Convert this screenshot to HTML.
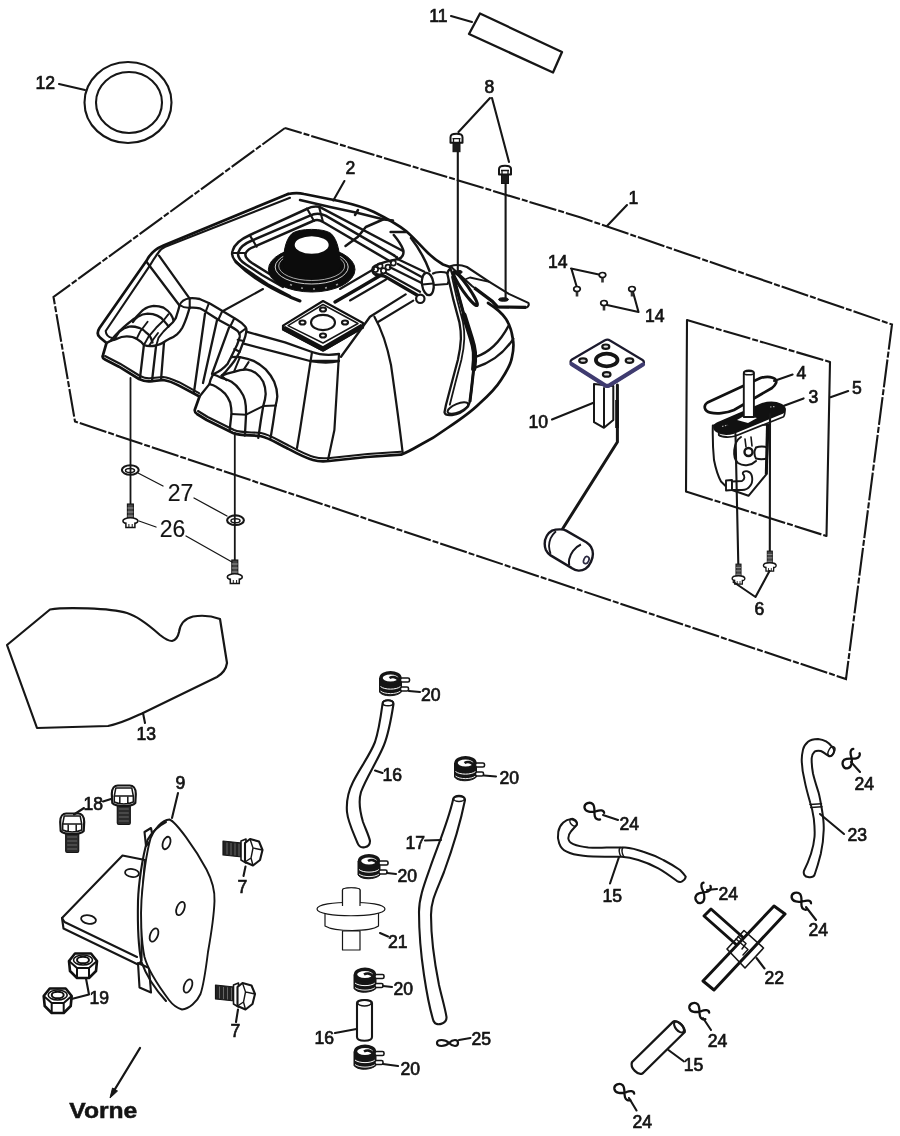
<!DOCTYPE html>
<html>
<head>
<meta charset="utf-8">
<title>Tank</title>
<style>
html,body{margin:0;padding:0;background:#fff;}
body{width:900px;height:1136px;overflow:hidden;font-family:"Liberation Sans",sans-serif;}
svg{display:block;}
.l{fill:none;stroke:#161616;stroke-width:2.1;stroke-linecap:round;stroke-linejoin:round;}
.t{fill:none;stroke:#161616;stroke-width:1.5;stroke-linecap:round;stroke-linejoin:round;}
.h{fill:none;stroke:#111;stroke-width:2.7;stroke-linecap:round;stroke-linejoin:round;}
.w{fill:#fff;stroke:#161616;stroke-width:2.1;stroke-linecap:round;stroke-linejoin:round;}
.k{fill:#151515;stroke:#151515;stroke-width:1;stroke-linejoin:round;}
.d{fill:none;stroke:#161616;stroke-width:2.1;stroke-dasharray:28 2 6 2;}
text{font-family:"Liberation Sans",sans-serif;font-size:17.6px;fill:#141414;stroke:#141414;stroke-width:0.7;text-anchor:middle;}
</style>
</head>
<body>
<svg width="900" height="1136" viewBox="0 0 900 1136">
<defs>
<!-- hose clamp (20) -->
<g id="clamp">
<path class="k" d="M-11,-6 L-11,8 C-8,13 6,13 11,8 L11,-6 Z"/>
<ellipse cx="0" cy="-6" rx="9.5" ry="5.2" fill="#fff" stroke="#151515" stroke-width="3.4"/>
<path d="M-1,-6 C2,-8 6,-7 8,-4" fill="none" stroke="#151515" stroke-width="2.6"/>
<path d="M-10,2.5 C-6,6 6,6 10,2.5" fill="none" stroke="#fff" stroke-width="1"/>
<path d="M-10,7 C-6,10.5 6,10.5 10,7" fill="none" stroke="#fff" stroke-width="0.9"/>
<rect x="10" y="-6" width="9" height="4" rx="1.5" fill="#fff" stroke="#151515" stroke-width="1.6"/>
<rect x="10" y="3" width="8" height="4" rx="1.5" fill="#fff" stroke="#151515" stroke-width="1.6"/>
</g>
<!-- spring clip (24) -->
<g id="clip">
<path d="M9,-5 C7,-7 4,-5 2,-1.500 C-1,3 -6,6.500 -9.500,3.500 C-12.500,0.500 -9.500,-5 -5,-4.500 C-1,-3.500 1,1.500 4,3.500 C6,5 9,4.500 10,2.500" fill="none" stroke="#111" stroke-width="2.300" stroke-linecap="round" stroke-linejoin="round"/>
</g>
<!-- small screw (8) -->
<g id="scr8">
<rect x="-3.500" y="4" width="7" height="9.500" fill="#1c1c1c" stroke="#151515" stroke-width="1"/>
<path d="M-6,4.500 L-6,-1 C-6,-5.500 6,-5.500 6,-1 L6,4.500 Z" fill="#fff" stroke="#151515" stroke-width="2" stroke-linejoin="round"/>
<path d="M-4,0.500 L4,0.500 M-3,0.500 L-3,4 M3,0.500 L3,4" stroke="#151515" stroke-width="1.300" fill="none"/>
</g>
<!-- flange bolt pointing down (18) -->
<g id="bolt18">
<rect x="-6.500" y="9" width="13" height="19.500" rx="1.500" fill="#2b2b2b" stroke="#151515" stroke-width="1.200"/>
<path d="M-5,13 H5 M-5,17 H5 M-5,21 H5 M-5,25 H5" stroke="#777" stroke-width="0.800"/>
<path d="M-12,-2 C-12,-8 -9,-10.500 -6,-10.500 L6,-10.500 C9,-10.500 12,-8 12,-2 L11.500,7 C8,11 -8,11 -11.500,7 Z" fill="#fff" stroke="#151515" stroke-width="2.200" stroke-linejoin="round"/>
<path d="M-9.500,0 L-8,-8 L8,-8 L9.500,0 Z" fill="none" stroke="#151515" stroke-width="1.500" stroke-linejoin="round"/>
<path d="M-9.500,0 L-9.500,6 C-5,8.500 5,8.500 9.500,6 L9.500,0 M-4,0.500 V7.500 M4,0.500 V7.500" fill="none" stroke="#151515" stroke-width="1.500"/>
</g>
<!-- nut (19) -->
<g id="nut">
<path d="M-14,-4 L-8,-11.500 L8,-11.500 L14,-4 L13,6 L6,13 L-6,13 L-13,6 Z" fill="#fff" stroke="#111" stroke-width="2.600" stroke-linejoin="round"/>
<path d="M-14,-4 L-6,3 L6,3 L14,-4 M-6,3 L-6,13 M6,3 L6,13" fill="none" stroke="#111" stroke-width="2"/>
<ellipse cx="0" cy="-5" rx="9.500" ry="5" fill="none" stroke="#111" stroke-width="1.600"/>
<ellipse cx="0" cy="-5" rx="6" ry="3.300" fill="#fff" stroke="#111" stroke-width="2"/>
</g>
<!-- bolt pointing left (7) -->
<g id="bolt7">
<path d="M-28,-11 L-9,-9 L-9,5 L-28,3 Z" fill="#222" stroke="#151515" stroke-width="1.200" stroke-linejoin="round"/>
<path d="M-24,-9.500 L-24,2.500 M-20,-9 L-20,3 M-16,-8.700 L-16,3.500 M-12,-8.300 L-12,4" stroke="#777" stroke-width="0.800"/>
<path d="M-10,-11 L-10,8 L-5,11 L-5,-13 Z" fill="#fff" stroke="#151515" stroke-width="1.600" stroke-linejoin="round"/>
<path d="M-6,-9 L-1,-13 L8,-10.500 L11.500,-2 L9,8 L2,13.500 L-6,10 Z" fill="#fff" stroke="#151515" stroke-width="2.100" stroke-linejoin="round"/>
<path d="M-1,-13 L2,-4 L11.500,-2 M2,-4 L0,6 L2,13.500 M0,6 L-6,10" fill="none" stroke="#151515" stroke-width="1.400"/>
</g>
<!-- small flange bolt up (26 / 6) -->
<g id="bolt26">
<rect x="-3" y="-17" width="6" height="16" fill="#444" stroke="#151515" stroke-width="1.100"/>
<path d="M-3,-13 H3 M-3,-9 H3 M-3,-5 H3" stroke="#bbb" stroke-width="0.700"/>
<ellipse cx="0" cy="0" rx="7.500" ry="3.200" fill="#fff" stroke="#151515" stroke-width="1.600"/>
<path d="M-4.500,1.500 L-4.500,6.500 L4.500,6.500 L4.500,1.500" fill="#fff" stroke="#151515" stroke-width="1.500"/>
<path d="M-1.500,3 V6.500 M1.800,3 V6.500" stroke="#151515" stroke-width="1"/>
</g>
<!-- tiny screw (14) -->
<g id="scr14">
<path d="M0,2 V7.500" stroke="#333" stroke-width="2.600"/>
<ellipse cx="0" cy="0" rx="3.300" ry="2.500" fill="#fff" stroke="#151515" stroke-width="1.700"/>
</g>
</defs>

<rect width="900" height="1136" fill="#fff"/>

<!-- ===== dashed assembly outline (1) ===== -->
<g id="outline1">
<path class="d" d="M285,128 L53.500,297 L75,421.500 L846,679 L892,324.500 L580,217.200 L285,128"/>
</g>

<!-- ===== sub-assembly box (5) ===== -->
<g id="box5">
<path class="d" d="M687,320 L830,362"/>
<path class="l" d="M687,320 L686,491.5 M830,362 L826.5,536"/>
<path class="d" d="M686,491.5 L826.5,536"/>
</g>

<!-- TANK -->
<g id="tank">
<!-- outer silhouette -->
<path class="h" d="M288,194 L163.500,245.500 C155,249 150,254 147,260 L99.500,328 C97,332 97.500,335.500 100,337.500 L106.500,343 L103,355 C102,357 103,358.500 105,359.500 L119,366.700 L139,379 C143,381 147,381.500 150,381.300 L163,380 C170,381 175,383.500 179,385.600 L199.500,396.500 L194.800,409.800 C194.500,411.500 195.500,413 197,414 L206.700,420 L233,433 C240,436 250,435 260,436 C270,438 278,444 286.700,448 C296,453 305,458 313,460 C318,461.500 324,461.500 329,461 L366.700,457 L401,454.700 C408,452 414,448.500 420,445 C430,440 438,435 446,429 C458,421 470,413 479,404 C488,396 496,388 501,380 C507,371 511,364 512,357 C513.500,350 514,345 513,340 C512,332 510,325 506,319 C502,313 496,308 488,303"/>
<path class="h" d="M288,194 C296,192.500 300,193 304,194 L339,201 C352,204 364,207 374,212 C386,218 397,224 406,231 C414,238 421,246 428,253 C433,258 438,261.500 443,264.500 L450,267"/>
<!-- top-left inner edge -->
<path class="l" d="M290,197.800 L165.200,246.800 C161.500,248.500 159.500,250.500 158.500,252.500 M158.500,252.500 C155.500,256.500 152.500,261 150.500,264.600 L105.700,331 C106,335 108,337 112,338"/>
<!-- ridge from corner -->
<path class="l" d="M146.700,262 L179.500,305.500 M159,255.600 L189.500,298.300" style="stroke-width:2.300"/>

<!-- recess concentric lines -->
<path class="l" d="M290,296 L267.800,284.400 L241,266 C234,261 231,256 232.500,251 C234,245 241,239 250,235 L306.700,209 C310,207 315,206 319,206.700 L403,251" style="stroke-width:2.500"/>
<path class="l" d="M283,287 L262,275 L246,264.500 C239,260 237,256 238.500,252 C240,247 246,243 252,240.500 L310,215.600 C314,213.500 320,213 325.600,215.600 L394.400,255.600" style="stroke-width:2.500"/>
<path class="l" d="M276,278 L252,263 C246,259 244,256 246,252.500 C248,249 251,248 254.400,246.700 L313,221 C316,219.500 320,220 323,222 L387.800,260" style="stroke-width:2.500"/>
<path class="l" d="M250,235.600 L256.700,246.700 M307,208.500 L314,221 M319,206.700 L323,222 M232,253 L246,253"/>
<!-- lower-left recess wall (dark) -->
<path class="h" d="M236,262 C250,276 270,288 290,297 L300,301" style="stroke-width:3"/>
<path class="l" d="M263,289 L223,311"/>
<!-- lower-right recess wall -->
<path class="h" d="M382,274.500 L360,287.500 L335,302" style="stroke-width:3.400"/>
<path class="l" d="M374,269 L340,289 M386,279.500 L350,300.500 M413.300,300.600 L378,322"/>
<!-- cap -->
<ellipse cx="311.700" cy="269.500" rx="43.300" ry="22.500" fill="#0c0c0c" stroke="#0c0c0c" stroke-width="1"/>
<ellipse cx="311.700" cy="267" rx="36.500" ry="17" fill="none" stroke="#e8e8e8" stroke-width="0.9"/>
<ellipse cx="311.700" cy="266" rx="33" ry="14.500" fill="none" stroke="#cfcfcf" stroke-width="0.8"/>
<path d="M283.700,266 C283,254 285,240 292,233.500 C299,228 324,228 331,233.500 C338,240 340,254 340.300,266 C340,281 284,281 283.700,266 Z" fill="#0c0c0c" stroke="#0c0c0c" stroke-width="1"/>
<ellipse cx="311.700" cy="245" rx="17" ry="8.700" fill="#fff"/>
<path d="M290,284.500 L292,285.200 M301,288 L303,288.300 M313,289 L315,289 M325,288 L327,287.600 M336,285 L338,284.200" stroke="#999" stroke-width="1.6" fill="none"/>
<!-- flange plate -->
<path d="M283,325.600 L323,301 L363,323 L363,327.500 L323,350.500 L283,329.500 Z" fill="#fff" stroke="#111" stroke-width="2.2" stroke-linejoin="round"/>
<path d="M283.500,328 L323,349 L362.500,326" fill="none" stroke="#111" stroke-width="5" stroke-linejoin="round"/>
<path class="t" d="M288,325.600 L323,304.500 L358,323.500 L323,343 Z"/>
<ellipse class="l" cx="323" cy="322.500" rx="12" ry="7.600"/>
<ellipse class="l" cx="323" cy="309.500" rx="3" ry="2" style="stroke-width:2.2"/>
<ellipse class="l" cx="302.500" cy="322.500" rx="3" ry="2" style="stroke-width:2.2"/>
<ellipse class="l" cx="345" cy="322.500" rx="3" ry="2" style="stroke-width:2.2"/>
<ellipse class="l" cx="323" cy="335.500" rx="3" ry="2" style="stroke-width:2.2"/>

<!-- top-right edge details -->
<path class="l" d="M300,200 L330,207 L358,213 L384,219.500 L393,220.500" style="stroke-width:2.500"/>
<path class="l" d="M358,210 L355,215 M383,219.500 L365.800,227 L358,236.700 L345.500,246" style="stroke-width:2.500"/>
<path class="l" d="M393.800,235 C398,240 401.500,245 403,249.500 C404.500,254 402,258 398.500,259 C397,259.300 396.500,258.500 396.700,257" style="stroke-width:2.500"/>
<path class="l" d="M394.400,255.600 C396,257 397,258 398,258.600 M387.800,260 L391,262"/>
<path class="l" d="M390.600,232 L406,232 M411,238 C418,247 425,259 429.500,271" style="stroke-width:2.500"/>
<!-- channel tube on right -->
<path class="l" d="M375,274.500 C371.500,272.500 371.500,267.500 375,265.800 C380,263.500 390,260.500 398,259.200 L424.400,271.700 M397.800,263.900 L422.200,277.200 M390,267.200 L421.100,282.800 M385.600,272.800 L420,291.700" style="stroke-width:2.300"/>
<path d="M375,274.500 L384.400,276.100 L417.800,295.500" fill="none" stroke="#111" stroke-width="3.400" stroke-linejoin="round"/>
<circle class="l" cx="375.500" cy="269.500" r="2.600" style="stroke-width:1.700"/>
<circle class="l" cx="380" cy="266" r="2.600" style="stroke-width:1.700"/>
<circle class="l" cx="383.500" cy="270.800" r="2.600" style="stroke-width:1.700"/>
<circle class="l" cx="388" cy="267.300" r="2.600" style="stroke-width:1.700"/>
<circle class="l" cx="393.300" cy="263" r="2.600" style="stroke-width:1.700"/>
<ellipse class="l" cx="427.800" cy="284" rx="5.800" ry="11.300" transform="rotate(-8 427.800 284)" style="stroke-width:2.300"/>
<path class="l" d="M422.500,284.500 L433,283.500"/>
<circle class="w" cx="420.300" cy="298.800" r="4.200" style="stroke-width:2.200"/>
<path class="l" d="M433,273.500 C436,271.700 444,271.500 447,273 C449.500,275.500 449.500,281 447.500,284 L434,285" style="stroke-width:2.200"/>
<!-- saddle ridge (double curve) -->
<path class="l" d="M189.700,298.300 C193,298 196,298.300 199.700,299 C203,300.500 207,302 210.300,303.700 L223.700,311.700 L237,319.700 C240,321.500 243,323.500 245,326.300 C246.500,328 246.700,330 246.300,331.700 C245.800,335 245,338 243.700,341 L239.700,351.700 C238,355 236.500,358 234.300,361 C232.500,363.500 231,365.500 229,367.700 C227,370.500 224.500,373.500 221.700,375.600" style="stroke-width:2.300"/>
<path class="l" d="M189.700,307.700 C193,307.500 196.500,307.500 199.700,308.300 C202.500,309.500 205,311 207.700,313 L218.300,319.700 L230.300,326.300 C233.500,328 236.500,329.500 238.300,331.700 C239.800,333.500 240,335 239.700,337 C239,340 238,342.500 237,345 L231.700,355.700 C230.500,358.500 229,361 227.700,363.700 C224,368 218.500,372 213.100,374.300" style="stroke-width:2.300"/>
<path class="l" d="M189.700,298.300 L189.700,307.700 M209,303 L205.700,311.700 M222.300,311 L218.300,319.700 M234.300,318.300 L230.300,326.300 M245,329 L239,333.700 M243.700,341 L237.700,339.700 M239.700,351.700 L234.300,349"/>
<!-- junction + band going down around left foot -->
<path class="l" d="M179.500,305.500 C181,301.500 185,299 189.700,298.300 M179.700,305 C183,307.500 186,308 189.700,307.700" style="stroke-width:2.100"/>
<path class="l" d="M179.700,305 C178.500,310 177,314.500 175.700,318.300 C174,321.500 171,324.500 168.300,326.500 M189.700,307.700 C188.500,311.500 187.500,315 186.300,318.300 C185,321.500 184,324.500 182.300,327.700 C181,330 179,332.500 177,334.300 C175,336 173,337.300 170.300,338.300 C168,339.500 166,340.500 163.500,342.500" style="stroke-width:2.300"/>
<!-- line from recess to ridge, edge lines to right -->
<path class="l" d="M246.300,331.700 L285,342.300 L312,352 M243.700,343.700 L285,354.300 L310,361 L339,361 M341,356.700 L370,316.700 L405.600,294.400 M312,352 C320,355 332,355 339,354" style="stroke-width:2.300"/>
<path class="l" d="M310,361 C320,363 332,363 339,361"/>
<!-- saddle surface lines -->
<path class="l" d="M205,313.700 L194,392 M217,320.300 L203,383 M229,327.700 L212,374" style="stroke-width:2.300"/>
<!-- left foot arcs -->
<path class="l" d="M106.500,343 C109.500,340.800 113,339.600 117,338.800 C120,337 123.500,336.300 126.800,336.300 C130.500,336.300 134,337 136.600,338.800 C139.500,340.500 142,342.500 143.900,345 L140,377.800" style="stroke-width:2.300"/>
<path class="l" d="M111,340.500 C115,335 120,330.500 124.300,326.600 C128,323.500 131.500,320.500 135.300,318 C138.500,314.500 141,311.500 143.900,309.400 C147,307 150.500,306 153.700,305.800 C157.500,305.800 160.500,306.300 163.500,307.600 C166.500,309.500 169,311.500 170.800,314.300 C172,316 173,318.500 173.500,320.500" style="stroke-width:2.300"/>
<path class="l" d="M133,322 C134.500,319.500 136,318 137.800,316.800 C141,314.800 144,313.800 147.600,313.700 C151,313.700 154.500,314.300 157.300,315.600 C160.500,317 163,319 164.700,321.700 C166.500,323.500 167.500,325 168.300,326.600" style="stroke-width:2.300"/>
<path class="l" d="M114.500,339.500 C116,336.500 117,334.500 119.400,331.500 C122.500,329 125.500,327.300 129.200,326.600 C132.500,326.300 136,326.800 139,327.800 C142,329 144.500,330.500 146.300,332.700 C148,334 149,335 150,336.300 C151.500,338.500 152,340.500 152.500,342.500" style="stroke-width:2.300"/>
<path class="l" d="M143.900,345 C146,345.800 148,346.100 150,346.100 C152,346.100 154,345.900 156.100,345.500 C159,344.800 161.500,343.800 163.500,342.500 M156.100,345.500 L152,381 M164,342.500 L161,380" style="stroke-width:2.300"/>
<path class="l" d="M136.600,338.800 L140.200,331.500 L147.600,321.700 M143.900,345 L148.800,336.300 L156.100,327.800 L163.500,320.500 L168.300,314.300 M148.800,346.100 L153.700,338.800 L158,333 M156.100,346.100 L158.600,337.600 L163.500,331.500 L169.600,325.300" style="stroke-width:1.900"/>
<!-- rim double line at bottom -->
<path class="l" d="M105,356 L120,363.700 L140,376 C144,378 147,378.500 150,378.300 L163,377 C170,378 175,380.500 180,382.600 L199,393.200"/>
<path class="l" d="M198,411 L207.700,417 L234,430 C241,433 251,432 261,433 C271,435 279,441 287.700,445 C297,450 306,455 314,457 C319,458.500 325,458.500 330,458 L367.700,454 L401,451.700"/>
<!-- right foot arcs -->
<path class="l" d="M199.500,396.500 L209.400,384.100 C212,384.500 214.500,385.500 216.800,387.200 C220,389 223,391.500 225.300,393.900 C227.500,396.500 229,399.500 230.200,402.500 C231,406 231.500,410 231.500,413.500 L229.600,430.600" style="stroke-width:2.300"/>
<path class="l" d="M209.400,384.100 C210,380.500 211.500,377 213.100,374.300 C216,375 219,376.500 221.700,378 C225,379 228.500,380 231.500,381.700 C235,384 238,387 240,390.200 C242,393 244,396.500 244.900,400 C245.800,404 246.100,409 246.100,413.500 L244.900,435.500" style="stroke-width:2.300"/>
<path class="l" d="M221.700,375.600 C225.500,374 230,372.800 233.900,371.900 C238,370.500 242,369.600 246.100,369.400 C249.500,369.800 253,371 255.900,373.100 C259,375.500 261.500,378.500 263.200,381.700 C264.800,385.500 265.700,389.500 265.700,393.900 C265.500,398 264.500,402 263.200,406.100 L260.800,420.800 L258.300,437.900" style="stroke-width:2.300"/>
<path class="l" d="M231.500,357.200 C234,356.800 237,356.800 240,357.200 C244.500,358 249.500,359.200 253.500,360.900 C258,363 262,366 265.700,369.400 C269,373 272,377 274.200,381.700 C276,386 277.300,391 277.300,396.300 C277,400 276.300,403 275.500,406.100 L273,423.200 L270.600,437.900" style="stroke-width:2.300"/>
<path class="l" d="M231.500,414.100 L246.100,414.700 L263.200,406.100 L276.100,405.500 M221.700,375.600 L226.500,380.300 M233.900,371.900 L240,357.200 M243.700,369.600 L248.600,362.100" style="stroke-width:2"/>
<!-- front faces -->
<path class="l" d="M312,352 L300,430 L297,448 M339,354 L334.400,430 L328,460 M374.400,316.700 C382,330 388,350 391,365 C396,400 400,430 402.700,453" style="stroke-width:2.2"/>

<!-- rim band on right -->
<path class="l" d="M475.900,356.800 C488,353 500,342 508.800,325.400 M475.900,367.300 C490,363 504,353 513.300,338.800" style="stroke-width:2.300"/>
<!-- strap -->
<path class="w" d="M450.400,268.500 C448.500,270 447.500,272 447.500,274.500 L453.400,299.900 L459.400,322.400 C460.500,328 461,333 460.900,338.800 C460.500,346 459.500,353 457.900,359.800 L451.900,382.200 L446,404.700 L444.500,412.200 C445,414.500 448,415.500 452,415 C458,414.500 464,411 468,406.500 L469.900,401.700 L471.400,389.700 L473.700,368.800 C474.500,363 474.700,357.500 474.400,352.300 C473.800,347.500 472.800,343 471.400,338.800 L463.900,314.900 L454.900,281.900 Z" style="stroke-width:2.300"/>
<path d="M454.900,281.900 L463.900,314.900" fill="none" stroke="#111" stroke-width="3.200"/>
<path d="M463.900,314.900 L471.400,338.800 C472.800,343 473.800,347.500 474.400,352.300 C474.700,357.500 474.500,363 473.700,368.800" fill="none" stroke="#111" stroke-width="5.200" stroke-linecap="round"/>
<path d="M473.700,368.800 L471.400,389.700 L469.900,401.700" fill="none" stroke="#111" stroke-width="3"/>
<path class="l" d="M452,277 L457.200,299.900 L463,322.400 C464,328 464.500,333 464.300,338.800 C464,346 463,353 461.400,359.800 L455.500,382.200 L449.800,404.700" style="stroke-width:1.800"/>
<ellipse class="l" cx="457.900" cy="408" rx="11" ry="4.200" transform="rotate(-22 457.900 408)" style="stroke-width:2"/>
<!-- bracket -->
<path class="w" d="M450.400,266.200 C455,264.500 462,265 466.900,267 L489.400,281.900 L508.800,293.900 L528.300,302.900 C529.300,304.500 528.500,306.500 526.800,307.400 L498,307.200 L492.400,301.400 L472,286 Z" style="stroke-width:2.100"/>
<path d="M474.400,287.900 L492.400,301.400 L497.500,306.800 L526,307.400" fill="none" stroke="#111" stroke-width="3.200" stroke-linejoin="round"/>
<path class="l" d="M466,279 L470,277.500 L489.400,281.900" style="stroke-width:1.800"/>
<ellipse class="k" cx="503.500" cy="299.500" rx="5" ry="1.800"/>
<ellipse cx="465.400" cy="288.700" rx="3.200" ry="20.500" transform="rotate(-35 465.400 288.700)" fill="#fff" stroke="#111" stroke-width="3"/>
<ellipse class="k" cx="459" cy="272" rx="3.200" ry="1.600"/>
<!--TANKMORE--></g>

<!-- PARTS -->
<g id="parts">
<!-- 12 o-ring -->
<ellipse class="l" cx="128" cy="102.5" rx="43.5" ry="40.5"/>
<ellipse class="l" cx="129" cy="102.5" rx="33" ry="30.5"/>
<path class="l" d="M59,84 L85,90"/>
<!-- 11 pad -->
<path class="l" d="M480,13.5 L562,52 L553,72.5 L469,34 Z" style="stroke-width:2.3"/>
<path class="l" d="M451,16 L472,22"/>
<!-- 8 screws -->
<path class="l" d="M490,98 L458.500,132 M492,98 L509,162"/>
<path class="l" d="M457.800,152 L457.800,272 M505.600,184 L505.600,299"/>
<use href="#scr8" x="456.500" y="138.200"/>
<use href="#scr8" x="505" y="170"/>
<!-- 14 screws -->
<path class="l" d="M571,268.5 L600,274.7 M571.5,269 L576.5,286 M638.5,312 L633,292 M638.5,312 L607,305"/>
<use href="#scr14" x="602.5" y="275"/>
<use href="#scr14" x="577" y="289"/>
<use href="#scr14" x="632" y="289"/>
<use href="#scr14" x="604" y="303"/>
<!-- 1 leader -->
<path class="l" d="M627,205 L607,226"/>
<!-- 2 leader -->
<path class="l" d="M344.400,181 L333.300,200.500"/>

<!-- 27 washers, 26 bolts -->
<path class="l" d="M130.500,378 L130.500,506 M234.800,433 L234.800,561" style="stroke-width:1.800"/>
<ellipse class="l" cx="130.300" cy="470" rx="8.400" ry="4.800"/><ellipse class="t" cx="130" cy="470.500" rx="4.500" ry="2"/>
<ellipse class="l" cx="235.500" cy="520.200" rx="8.400" ry="4.800"/><ellipse class="t" cx="235.500" cy="520.700" rx="4.500" ry="2"/>
<use href="#bolt26" x="130.400" y="521"/>
<use href="#bolt26" x="234.800" y="577"/>
<path class="t" d="M138,473 L163,486 M194,498 L227,516 M139,521 L156,527 M186,536 L232,562" style="stroke-width:1.300"/>

<!-- 10 fuel sender -->
<g id="sender">
<path class="w" d="M594,384 L594,422.200 L604,427.800 L613.300,420 L613.300,386 Z M604,388 L604,427.800" style="stroke-width:2"/>
<path class="l" d="M617.400,385 L617.400,442 L562.500,529" style="stroke-width:3"/>
<path d="M617,400 L617,428" stroke="#111" stroke-width="3.600" fill="none"/>
<path d="M572,359.500 L604.500,340.500 C606.500,339.500 608.500,339.500 610,340.500 L642.500,360 C644.500,361.500 644.500,363.500 642.500,365 L610,385.500 C608,386.800 606,386.800 604.500,385.500 L572,364.500 C570,363 570,361 572,359.500 Z" fill="#fff" stroke="#1c1a2e" stroke-width="2.200" stroke-linejoin="round"/>
<path d="M571.500,364 L604.500,385 C606.500,386.300 608,386.300 610,385 L643,364.500" fill="none" stroke="#3f3b70" stroke-width="4.200" stroke-linejoin="round" stroke-linecap="round"/>
<ellipse cx="606.700" cy="360" rx="10.800" ry="6.300" fill="#fff" stroke="#151515" stroke-width="3.800"/>
<ellipse cx="605.800" cy="346.700" rx="3.500" ry="2.200" fill="#ddd" stroke="#151515" stroke-width="2.200"/>
<ellipse cx="583" cy="360.600" rx="3.800" ry="2.300" fill="#ddd" stroke="#151515" stroke-width="2.200"/>
<ellipse cx="629.500" cy="360.600" rx="3.800" ry="2.300" fill="#ddd" stroke="#151515" stroke-width="2.200"/>
<ellipse cx="606.700" cy="374.400" rx="3.800" ry="2.300" fill="#ddd" stroke="#151515" stroke-width="2.200"/>
<path d="M560.700,529.400 C557.500,529.300 554.500,529.700 552.100,530.600 C549.500,532 547.800,533.800 546.700,536 C545.300,538.500 544.700,541 544.700,543.800 C544.700,546 545,548 545.900,550 C547,552.300 548.500,554 550.600,555.400 L571.500,567.900 C574,569.500 576,570.400 578.500,570.600 C581,570.700 583.500,570 585.500,568.700 C588,567 589.800,564.500 591,561.700 C592.200,559 592.900,556.500 592.900,553.900 C592.900,551.500 592.200,549 591,546.900 C589.800,545 588.300,543.500 586.300,542.200 L566.100,530.600 C564.500,529.800 562.500,529.400 560.700,529.400 Z" fill="#fff" stroke="#17161f" stroke-width="2.400" stroke-linejoin="round"/>
<path d="M556,531.300 C553.500,533.500 551.800,535.800 550.600,538.300 C549.500,541 549,543.500 549,546.100 C549.200,549 549.800,551.500 550.600,553.900" fill="none" stroke="#17161f" stroke-width="1.800"/>
<path d="M580.900,544.500 C577.500,546 575,548.300 573.100,550.800 C571,553.500 569.800,556.300 569.200,559.300 C568.800,561.500 568.800,563.500 569.200,565.500" fill="none" stroke="#17161f" stroke-width="2"/>
<ellipse cx="586.300" cy="560.100" rx="2.500" ry="3.700" transform="rotate(25 586.300 560.100)" fill="none" stroke="#2a2840" stroke-width="1.700"/>
</g>
<path class="l" d="M552,419.500 L593.500,402.800"/>

<!-- 3/4 petcock in box -->
<g id="petcock">
<path d="M707.500,402.500 L761,377.800 C770,375.500 778,378 776,383 C775,385.500 774,386.500 772,388 L734,410 C726,413.500 716,414 710.500,412.600 C704,411 703,405.500 707.500,402.500 Z" fill="none" stroke="#111" stroke-width="2.700" stroke-linejoin="round"/>
<path class="w" d="M712.800,425.600 C712.500,440 713,450 714,460 C716,470 718,476 721,481.500 L728.300,488.700 L748.500,495.800 L766.300,474.400 L768.700,424.500 Z" style="stroke-width:2"/>
<path d="M767.500,424.500 L766.300,474.400" stroke="#111" stroke-width="3" fill="none"/>
<path class="w" d="M718.800,431.600 L718.800,435 C722,437.500 730,437.500 735.400,436 L783,417 C785,416 785,413 784.800,409 L718.800,431.600 Z" style="stroke-width:1.800"/>
<path d="M717.600,423 L761.600,404 C768,402 776,402 781,404.500 C786,407 785.500,411 783,412.600 L734,432.800 C728,434.500 721,434 717,431.500 C713,429 713,425 717.600,423 Z" fill="#111" stroke="#111" stroke-width="1.800"/>
<path d="M737,420 L745,415.500 L757,418 L748,423 Z" fill="#fff"/>
<path d="M722,426.500 L728,425 M770,407 L775,406.500" stroke="#aaa" stroke-width="1.200" fill="none" stroke-dasharray="1.500 1.500"/>
<path class="w" d="M743.800,373 C743.800,369.500 753.900,369.500 753.900,373 L753.900,417 L743.800,417 Z" style="stroke-width:1.900"/>
<ellipse class="t" cx="748.800" cy="373" rx="5" ry="1.800"/>
<path class="l" d="M741,437 C733,442 732,458 738,463 C744,467 752,465 756,461" style="stroke-width:2"/>
<path class="l" d="M745,439 L746,447 M751,437 L752,446" style="stroke-width:1.600"/>
<circle class="l" cx="748.500" cy="452" r="4" style="stroke-width:2.400"/>
<path class="l" d="M756,447.500 C760,446 765,446.500 767,447.500 M756,458.500 C760,459.500 765,459 767,458.500 M756,447.500 C754,451 754,455 756,458.500" style="stroke-width:2"/>
<path class="w" d="M726,480.500 L732,480 L732,490 L726,490.500 Z" style="stroke-width:1.900"/>
<path class="w" d="M732,481.500 L742,481 C745,479.500 745,476 743,474 C742,472 745,470.500 748,471.500 C753,473 753.500,482 750,486 C748,489 745,490 742,490 L732,490 Z" style="stroke-width:1.900"/>
</g>
<path class="l" d="M735.500,434 L738.300,564 M770,414 L769.800,552"/>
<use href="#bolt26" transform="translate(738.500,578.500) scale(0.850)"/>
<use href="#bolt26" transform="translate(769.800,565.500) scale(0.850)"/>
<path class="l" d="M733.500,582 L755.500,597 L769.500,571"/>
<path class="l" d="M792.600,374.600 L774,381 M803.600,398.400 L784,405.700 M848.200,391.100 L830.500,397.200"/>

<!-- 13 pad outline -->
<path class="l" d="M7,645 L50,609.5 C65,607 110,608 127,613 C140,617 152,628 160,635 C165,639 169,641 172,641 C176,640 178,637 179,632 C180,625 183,619 193,616.5 C202,615 212,616 220,619 L227,663 C226,670 222,674 217,677 L143,713 C130,719 120,724 108,726 L37,728 Z" style="stroke-width:2.200"/>
<path class="l" d="M143,713 L145,723"/>

<!-- 18 bolts -->
<use href="#bolt18" x="123.800" y="796"/>
<use href="#bolt18" x="72.200" y="824"/>
<path class="l" d="M103,801.500 L111,799 M84,808 L74,814.500"/>
<!-- 9 bracket -->
<g id="bracket9">
<path class="w" d="M122.5,855.5 L145,860 L142,900 L141.5,960 L139,965 L63.5,928.5 L62,918 Z"/>
<path class="l" d="M62,918 L64.5,922 L137,957"/>
<path class="w" d="M138,963 L139.5,987.5 L151,992.5 L149,968 Z"/>
<path class="w" d="M144.5,832 L151,828 L153,838 L146,846 Z"/>
<path class="w" d="M169.5,819.5 C176,822 195,848 206.5,869.5 C212,880 215,890 214.500,901 C214,915 211,935 208,952 C206,968 204,984 200.500,994 C197,1002 189,1009 182,1009.500 C177,1008 172,1004 169,1000 C160,988 148,970 144.500,957 C141,940 140.500,915 141.500,900 C143,880 146,855 150.500,838.500 C154,829 162,820 169.500,819.500 Z" style="stroke-width:1.9"/>
<path class="l" d="M166,822 C158,826 151,834 147.500,840 C142,858 138.500,885 138,901 C137.500,925 138.500,948 141.500,962 C146,975 156,990 166,1001"/>
<ellipse class="l" cx="166.500" cy="843" rx="3.600" ry="6.500" transform="rotate(20 166.500 843)" style="stroke-width:1.8"/>
<ellipse class="l" cx="180.500" cy="908.500" rx="3.800" ry="7" transform="rotate(22 180.500 908.500)" style="stroke-width:1.8"/>
<ellipse class="l" cx="154" cy="935" rx="3.800" ry="7" transform="rotate(22 154 935)" style="stroke-width:1.8"/>
<ellipse class="l" cx="188" cy="986" rx="3.800" ry="7" transform="rotate(22 188 986)" style="stroke-width:1.8"/>
<ellipse class="l" cx="132" cy="873" rx="7" ry="4" transform="rotate(8 132 873)" style="stroke-width:1.8"/>
<ellipse class="l" cx="88.500" cy="919.500" rx="7.500" ry="4.200" transform="rotate(10 88.500 919.500)" style="stroke-width:1.8"/>
</g>
<path class="l" d="M178,793 L172,818"/>
<!-- 7 bolts -->
<use href="#bolt7" x="251" y="852"/>
<use href="#bolt7" x="243.500" y="996"/>
<path class="l" d="M245.500,866.500 L243.500,876 M238,1009.500 L236,1022"/>
<!-- 19 nuts -->
<use href="#nut" x="83" y="965"/>
<use href="#nut" x="57.700" y="1000"/>
<path class="l" d="M86,978.500 L89,994.500 L71.500,999"/>
<!-- Vorne arrow -->
<path class="l" d="M140,1048 L112,1094" style="stroke-width:2.300"/>
<path class="k" d="M110,1098 L112.500,1088 L117.500,1091 Z"/>

<!-- hoses 16,17 & clamps 20 -->
<path class="w" d="M382.500,704 C382,699 394,699 393.500,704 C391,720 388,735 384,745 C378,760 366,778 361,792 C358,802 360,812 363,822 C366,830 369,836 370,841 C370,848 360,850 357.500,843 C353,832 348,822 347,812 C346,800 348,792 353,782 C360,768 370,755 375,742 C379,730 381,715 382.500,704 Z"/>
<ellipse class="t" cx="388" cy="703" rx="5.200" ry="2.800"/>
<path class="w" d="M453,800 C452.500,795 465.500,795 465,800 C460,825 452,850 444,872 C437,890 431,900 431,915 C431,935 434,960 439,985 C442,998 445,1008 446.500,1017 C447,1024 436,1027 433.500,1021 C430,1010 427,995 424,975 C421,955 419,935 419,912 C419,898 424,885 430,868 C438,845 448,822 453,800 Z"/>
<ellipse class="t" cx="459" cy="798.500" rx="5.500" ry="3"/>
<path class="w" d="M357,1003 C357,999 372,999 372,1003 L372,1037 C372,1042 357,1042 357,1037 Z"/>
<ellipse class="t" cx="364.500" cy="1003" rx="6.800" ry="3"/>
<use href="#clamp" x="390.500" y="684"/>
<use href="#clamp" x="465.500" y="769"/>
<use href="#clamp" x="369" y="867"/>
<use href="#clamp" x="365" y="980.500"/>
<use href="#clamp" x="365" y="1057.500"/>
<path class="l" d="M409,691 L420,692 M484,775.500 L496,776.500 M387,873 L396,874 M383,986 L392,987 M383,1064 L398,1066"/>
<path class="l" d="M375,770.500 L382.500,773 M425,840.500 L441,840 M335,1033 L356.500,1029"/>
<!-- 21 filter -->
<g id="filter21">
<path class="w" d="M342.500,890 C342.500,887 360,887 360,890 L360,909 L342.500,909 Z" style="stroke-width:1.2"/>
<path class="w" d="M342.500,931 L360,931 L360,950 L342.500,950 Z" style="stroke-width:1.2"/>
<path class="w" d="M325,912 L325,926 C335,932 370,932 378.500,926 L378.500,912 Z" style="stroke-width:1.2"/>
<path class="w" d="M317,909 C317,900 385,900 385,909 C385,918 317,918 317,909 Z" style="stroke-width:1.2"/>
<path d="M342.500,906 L342.500,890 C342.500,887 360,887 360,890 L360,906" fill="#fff" stroke="#161616" stroke-width="1.2"/>
</g>
<path class="l" d="M380,933 L388,936.500"/>
<!-- 25 clip -->
<path d="M437,1043 C437,1039 445,1039 449,1043 C453,1047 458,1047 458,1043 C458,1039 453,1039 449,1043 C445,1047 437,1047 437,1043 Z" fill="none" stroke="#151515" stroke-width="2.2"/>
<path class="l" d="M459,1040 L470.500,1038"/>

<!-- hoses 15, 23 -->
<path class="w" d="M570.800,819.200 C568,819 565.500,820.500 563.300,822.500 C560.500,825 559,828 558.300,831.700 C557.500,836 558,840 559.200,843.300 C560.500,847 563,850 566.700,851.700 C571,854 577,855.200 583.300,855.800 C590,856.500 598,856.700 605,856.700 L621.700,856.700 C627,857 633,858.300 638.300,860 C645,862 652,865 658.300,868.300 C665,872 671,876.500 676.700,880.800 C678.500,882 680.500,882.300 681.700,881.700 C684,880.500 685.500,878.500 685.800,876.700 C684,874 682,872 680,870 C675,866.500 669,863 663.300,860 C657,856.500 650,853.800 643.300,851.700 C637,849.500 631,848 625,847.500 L606.700,847.500 C600,847.800 594,847.800 588.300,847.500 C583,847 577.500,846 573.300,844.200 C570.500,843 568.500,841 568.300,838.300 C568.300,835.500 569.300,833.500 570.800,831.700 C572.500,829.500 575,827 576.700,825 C578,822.500 574,819 570.800,819.200 Z" style="stroke-width:2"/>
<ellipse class="t" cx="573.500" cy="822.300" rx="4.200" ry="3" transform="rotate(48 573.500 822.300)"/>
<path class="t" d="M620,847.500 C618.500,850 619.500,854 621,856.700 M622.800,847.500 C621.300,850 622.300,854 623.800,856.700"/>
<path class="l" d="M619,857 L610,883.500"/>
<path class="w" d="M832,746.800 C829,742.500 823,739.500 818,739 C813,739 810,740 808,741.800 C805,744.500 803.500,747 803,749.600 C802,754 801.500,758 801.800,762 C802,768 803,774 804.600,780.600 C806,788 808,795 810.300,803 C812,808 813,813 813.800,818.600 C814.500,825 815,831 814.500,837 C814,843 812.500,849 811,853.800 C809,860 806.500,866 804,870.700 C803,874 805,877 808,877 C811,877.500 813.500,877 814.500,875 C817,868 819,861 820.800,853.800 C822.500,846 823.500,838 823.700,830 C824,823 823,816 822,810 C821,804 820,798 818.700,793 C816.500,786 814.500,780 813,773.500 C812,768 811.500,763 811.700,758 C812,755 813,753 814.500,751.700 C816.500,750.500 818.500,750.500 820.800,751 C823.500,752 826,754.500 828.600,756 C831,757 833.500,755 834,751.700 C834.500,749.500 833.500,748 832,746.800 Z" style="stroke-width:2"/>
<ellipse class="t" cx="831.400" cy="751.300" rx="2.800" ry="5" transform="rotate(28 831.400 751.300)"/>
<path class="t" d="M810,804.500 L821.500,803.800 M810.800,807.500 L822,806.800"/>
<path class="l" d="M820,814 L844,834"/>
<path class="w" d="M673,1021.900 C676,1019 685,1026 684.800,1032 L642.800,1073.200 C638,1076 630,1068 631.900,1062.300 Z" style="stroke-width:2.300"/>
<ellipse class="l" cx="679" cy="1027" rx="3.500" ry="6.500" transform="rotate(-40 679 1027)"/>
<path class="l" d="M668.400,1050 L684,1061.500"/>
<!-- 22 cross -->
<g id="cross22">
<path d="M704,916 L711,909 L746,940 L739,947 Z" fill="#fff" stroke="#111" stroke-width="3" stroke-linejoin="round"/>
<path d="M774,906 L785,914 L714,990 L703,981 Z" fill="#fff" stroke="#111" stroke-width="3" stroke-linejoin="round"/>
<path d="M727,949 L744,930.500 L763.500,948 L745,968 Z" fill="none" stroke="#151515" stroke-width="1.600" stroke-linejoin="round"/>
<path class="t" d="M736,939 L748,949.500 L743,955 M738,936.500 L746,943.500 L742,949"/>
</g>
<path class="l" d="M756.500,958 L764.500,968.500"/>
<!-- 24 clips -->
<use href="#clip" transform="translate(594,811) rotate(40)"/>
<use href="#clip" transform="translate(851,759) rotate(-48)"/>
<use href="#clip" transform="translate(703,893) rotate(-58)"/>
<use href="#clip" transform="translate(801,901) rotate(42)"/>
<use href="#clip" transform="translate(699,1011) rotate(38)"/>
<use href="#clip" transform="translate(624,1092) rotate(38)"/>
<path class="l" d="M603,815 L618,820 M851,762 L860,772 M707,890 L717,889 M806,907 L816,920 M703,1018 L711,1030 M629,1098 L636.500,1110.500"/>
</g>

<!-- LABELS -->
<g id="labels" style="filter:grayscale(1)" transform="translate(0.3,0)">
<text x="438" y="21.5">11</text>
<text x="45" y="89">12</text>
<text x="489" y="93">8</text>
<text x="633" y="203.5">1</text>
<text x="350" y="174">2</text>
<text x="557.500" y="268">14</text>
<text x="654.500" y="322.3">14</text>
<text x="801" y="379">4</text>
<text x="813" y="402.500">3</text>
<text x="856.500" y="394.200">5</text>
<text x="538" y="428">10</text>
<text x="759" y="615">6</text>
<text x="180.200" y="500.700" style="font-size:23px;stroke-width:0.15">27</text>
<text x="172.200" y="537" style="font-size:23px;stroke-width:0.15">26</text>
<text x="146" y="740">13</text>
<text x="93" y="809.500">18</text>
<text x="180" y="789">9</text>
<text x="242" y="892.500">7</text>
<text x="235" y="1036.500">7</text>
<text x="99" y="1004">19</text>
<text x="430.500" y="700.700">20</text>
<text x="509" y="784">20</text>
<text x="407" y="881.500">20</text>
<text x="403" y="994.500">20</text>
<text x="410" y="1074.500">20</text>
<text x="392" y="780.500">16</text>
<text x="415" y="848.500">17</text>
<text x="397.500" y="947.500">21</text>
<text x="324" y="1043.500">16</text>
<text x="481" y="1044.500">25</text>
<text x="629" y="829.500">24</text>
<text x="864" y="789.500">24</text>
<text x="728" y="899.500">24</text>
<text x="818" y="935.500">24</text>
<text x="717.200" y="1046.500">24</text>
<text x="642" y="1127.500">24</text>
<text x="857" y="841">23</text>
<text x="612" y="901.500">15</text>
<text x="693.200" y="1071">15</text>
<text x="774" y="983.500">22</text>
<text x="103" y="1117.500" style="font-weight:bold;font-size:22px;stroke-width:0.5" textLength="68" lengthAdjust="spacingAndGlyphs">Vorne</text>
</g>
</svg>
</body>
</html>
